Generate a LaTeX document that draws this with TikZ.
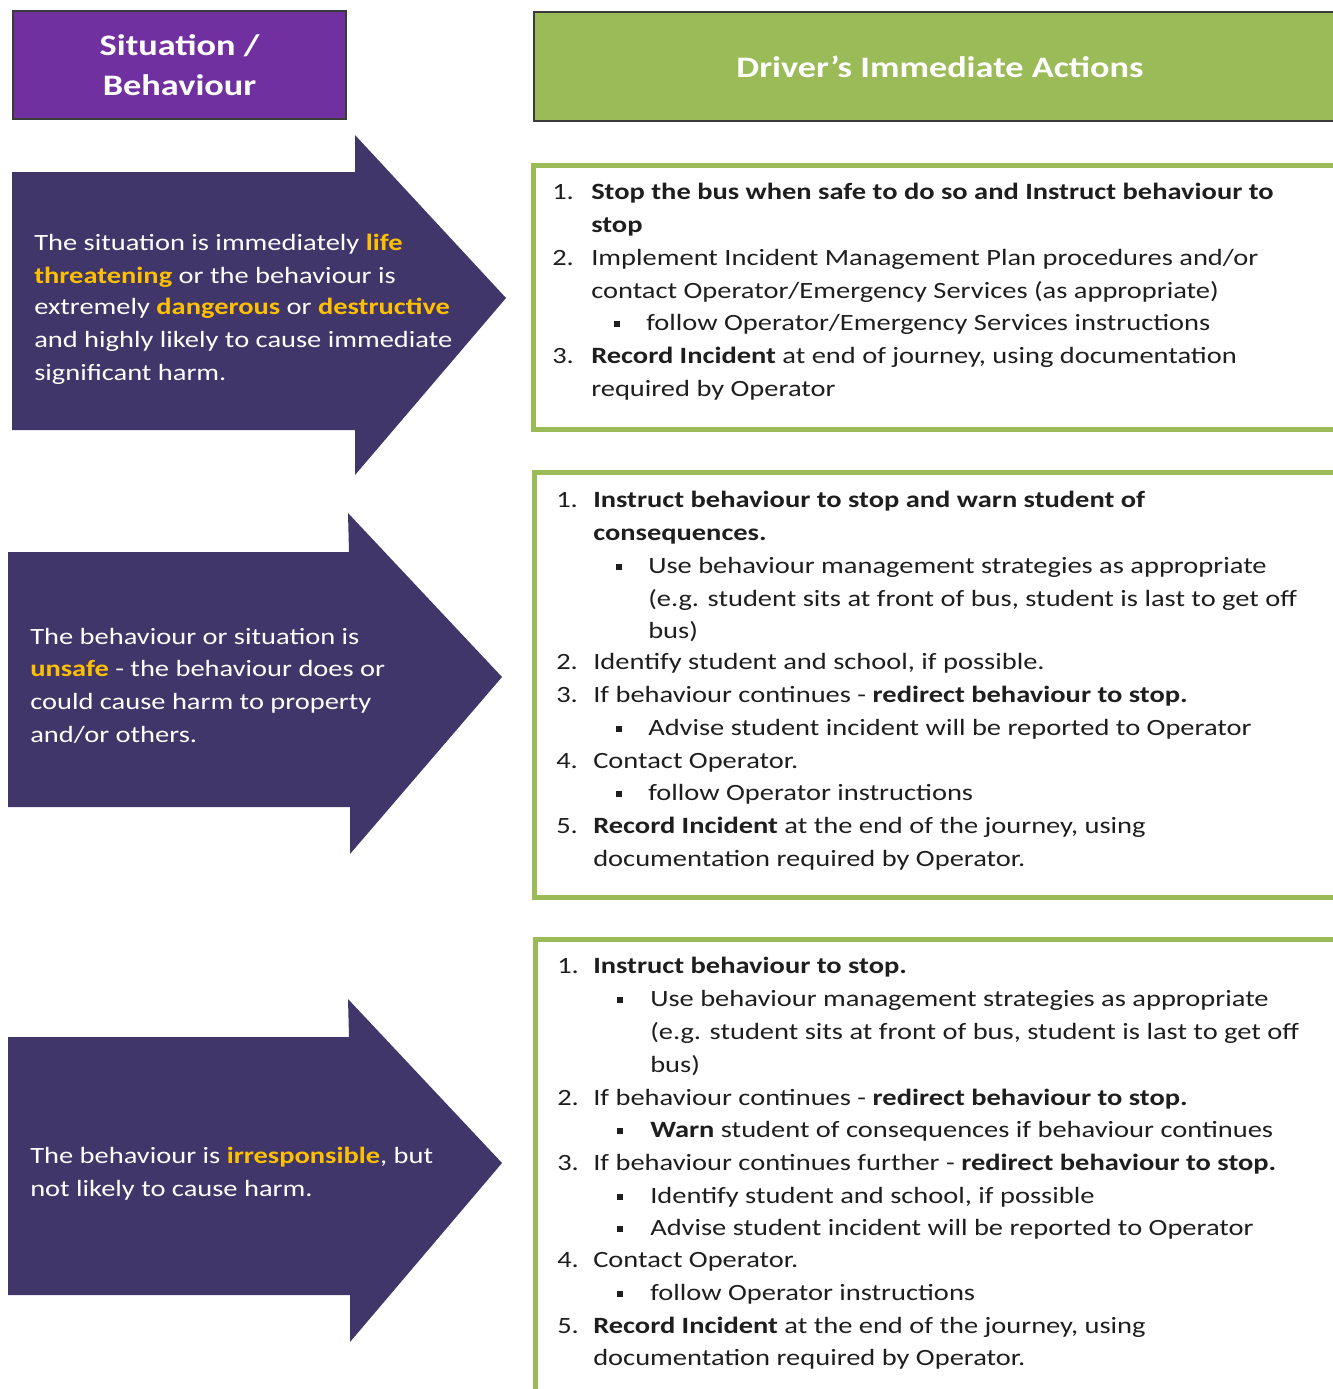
\documentclass[tikz,border=0pt]{standalone}
\usepackage{fontspec}
\setmainfont{Carlito}[FakeStretch=1.22]
\definecolor{hpurple}{HTML}{7030A0}
\definecolor{hgreen}{HTML}{9BBB59}
\definecolor{anavy}{HTML}{41366A}
\definecolor{hyel}{HTML}{FFC000}
\definecolor{hborder}{HTML}{3A3A3A}
\definecolor{txtc}{HTML}{1E1E1E}
\newcommand{\yw}[1]{\textcolor{hyel}{\textbf{#1}}}
\newcommand{\sqb}{\rule[1.9pt]{4.5pt}{4.5pt}}
\begin{document}
\begin{tikzpicture}[x=0.75pt,y=-0.75pt,
 ln/.style={anchor=base west, inner sep=0pt, text=txtc, font=\fontsize{17.5}{21}\selectfont},
 wl/.style={ln, text=white},
 hdr/.style={draw=hborder, line width=1.6pt, anchor=north west, text=white, align=center, font=\fontsize{22.3}{30}\selectfont\bfseries},
 actbox/.style={draw=hgreen, line width=3.6pt, fill=white, anchor=north west},
 arrowshape/.style={fill=anavy}]
\path[use as bounding box, clip] (0,0) rectangle (1333,1389);
\fill[white] (0,0) rectangle (1333,1389);
% headers
\node[hdr, fill=hpurple, minimum width=249.75pt, minimum height=81pt] (sit) at (12,10) {Situation /\\Behaviour};
\node[hdr, fill=hgreen, minimum width=609pt, minimum height=81.75pt] (drv) at (533,11) {Driver’s Immediate Actions};
% arrows
\fill[arrowshape] (12,172) -- (355,172) -- (355,135) -- (506,298) -- (355,475) -- (355,430) -- (12,430) -- cycle;
\fill[arrowshape] (8,552) -- (349,552) -- (348,513) -- (502,677) -- (350,854) -- (350,807) -- (8,807) -- cycle;
\fill[arrowshape] (8,1037) -- (349,1037) -- (348,999) -- (502,1163) -- (350,1342) -- (350,1295) -- (8,1295) -- cycle;
% arrow texts
\node[wl] (a1l1) at (34,250) {The situation is immediately \yw{life}};
\node[wl] (a1l2) at (34,283) {\yw{threatening} or the behaviour is};
\node[wl] (a1l3) at (34,314) {extremely \yw{dangerous} or \yw{destructive}};
\node[wl] (a1l4) at (34,347) {and highly likely to cause immediate};
\node[wl] (a1l5) at (34,380) {significant harm.};
\node[wl] (a2l1) at (30,644) {The behaviour or situation is};
\node[wl] (a2l2) at (30,676) {\yw{unsafe} - the behaviour does or};
\node[wl] (a2l3) at (30,709) {could cause harm to property};
\node[wl] (a2l4) at (30,742) {and/or others.};
\node[wl] (a3l1) at (30,1163) {The behaviour is \yw{irresponsible}, but};
\node[wl] (a3l2) at (30,1196) {not likely to cause harm.};
% action boxes
\node[actbox, minimum width=610.5pt, minimum height=198pt] (act1) at (531,163) {};
\node[actbox, minimum width=609.75pt, minimum height=318.75pt] (act2) at (532,470) {};
\node[actbox, minimum width=609pt, minimum height=347.25pt] (act3) at (533,937) {};
% box 1
\node[ln] (b1n1) at (552,199) {1.};
\node[ln] (b1t1) at (591,199) {\textbf{Stop the bus when safe to do so and Instruct behaviour to}};
\node[ln] (b1t2) at (591,232) {\textbf{stop}};
\node[ln] (b1n2) at (552,265) {2.};
\node[ln] (b1t3) at (591,265) {Implement Incident Management Plan procedures and/or};
\node[ln] (b1t4) at (591,298) {contact Operator/Emergency Services (as appropriate)};
\node[ln] (b1b1) at (614,330) {\sqb};
\node[ln] (b1t5) at (646,330) {follow Operator/Emergency Services instructions};
\node[ln] (b1n3) at (552,363) {3.};
\node[ln] (b1t6) at (591,363) {\textbf{Record Incident} at end of journey, using documentation};
\node[ln] (b1t7) at (591,396) {required by Operator};
% box 2
\node[ln] (b2n1) at (556,507) {1.};
\node[ln] (b2t1) at (593,507) {\textbf{Instruct behaviour to stop and warn student of}};
\node[ln] (b2t2) at (593,540) {\textbf{consequences.}};
\node[ln] (b2b1) at (616,573) {\sqb};
\node[ln] (b2t3) at (648,573) {Use behaviour management strategies as appropriate};
\node[ln] (b2t4) at (648,606) {(e.g. student sits at front of bus, student is last to get off};
\node[ln] (b2t5) at (648,638) {bus)};
\node[ln] (b2n2) at (556,669) {2.};
\node[ln] (b2t6) at (593,669) {Identify student and school, if possible.};
\node[ln] (b2n3) at (556,702) {3.};
\node[ln] (b2t7) at (593,702) {If behaviour continues - \textbf{redirect behaviour to stop.}};
\node[ln] (b2b2) at (616,735) {\sqb};
\node[ln] (b2t8) at (648,735) {Advise student incident will be reported to Operator};
\node[ln] (b2n4) at (556,768) {4.};
\node[ln] (b2t9) at (593,768) {Contact Operator.};
\node[ln] (b2b3) at (616,800) {\sqb};
\node[ln] (b2t10) at (648,800) {follow Operator instructions};
\node[ln] (b2n5) at (556,833) {5.};
\node[ln] (b2t11) at (593,833) {\textbf{Record Incident} at the end of the journey, using};
\node[ln] (b2t12) at (593,866) {documentation required by Operator.};
% box 3
\node[ln] (b3n1) at (557,973) {1.};
\node[ln] (b3t1) at (593,973) {\textbf{Instruct behaviour to stop.}};
\node[ln] (b3b1) at (617,1006) {\sqb};
\node[ln] (b3t2) at (650,1006) {Use behaviour management strategies as appropriate};
\node[ln] (b3t3) at (650,1039) {(e.g. student sits at front of bus, student is last to get off};
\node[ln] (b3t4) at (650,1072) {bus)};
\node[ln] (b3n2) at (557,1105) {2.};
\node[ln] (b3t5) at (593,1105) {If behaviour continues - \textbf{redirect behaviour to stop.}};
\node[ln] (b3b2) at (617,1137) {\sqb};
\node[ln] (b3t6) at (650,1137) {\textbf{Warn} student of consequences if behaviour continues};
\node[ln] (b3n3) at (557,1170) {3.};
\node[ln] (b3t7) at (593,1170) {If behaviour continues further - \textbf{redirect behaviour to stop.}};
\node[ln] (b3b3) at (617,1203) {\sqb};
\node[ln] (b3t8) at (650,1203) {Identify student and school, if possible};
\node[ln] (b3b4) at (617,1235) {\sqb};
\node[ln] (b3t9) at (650,1235) {Advise student incident will be reported to Operator};
\node[ln] (b3n4) at (557,1267) {4.};
\node[ln] (b3t10) at (593,1267) {Contact Operator.};
\node[ln] (b3b5) at (617,1300) {\sqb};
\node[ln] (b3t11) at (650,1300) {follow Operator instructions};
\node[ln] (b3n5) at (557,1333) {5.};
\node[ln] (b3t12) at (593,1333) {\textbf{Record Incident} at the end of the journey, using};
\node[ln] (b3t13) at (593,1365) {documentation required by Operator.};
\end{tikzpicture}
\end{document}
